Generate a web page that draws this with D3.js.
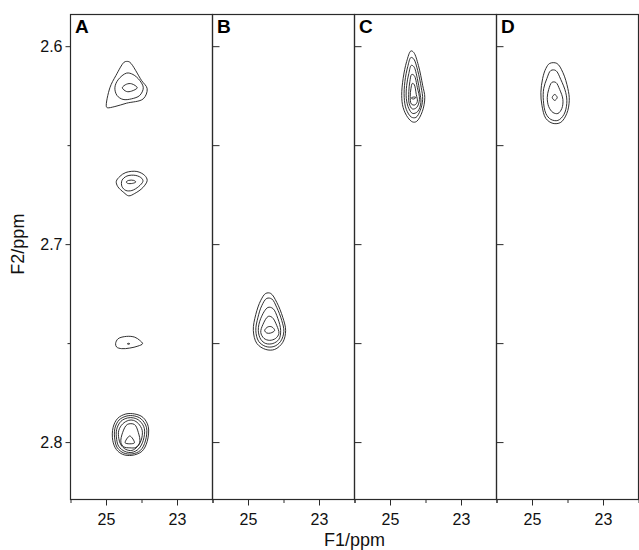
<!DOCTYPE html>
<html>
<head>
<meta charset="utf-8">
<script src="https://cdn.jsdelivr.net/npm/d3@7"></script>
<style>
body { margin: 0; background: #fff; }
svg { display: block; font-family: "Liberation Sans", Arial, sans-serif; }
</style>
</head>
<body>
<svg id="chart" width="639" height="550"></svg>
<script>
// panels and axes
const panelLabels = ["A", "B", "C", "D"];
const f1Domain = [26, 22];
const f2Domain = [2.584, 2.829];
const f1Major = [25, 23];
const f1Minor = [26, 24, 22];
const f2Major = [2.6, 2.7, 2.8];
const f2Minor = [2.65, 2.75];
const f2All = [2.6, 2.65, 2.7, 2.75, 2.8];

// contour rings, [F1 ppm, F2 ppm] (outer ring first)
const peakA1 = [
    [[24.42,2.6077],[24.33,2.6081],[24.00,2.6173],[23.84,2.6215],[23.95,2.6266],[24.42,2.6288],[24.75,2.6305],[24.96,2.6311],[24.99,2.6305],[24.89,2.6210],[24.72,2.6148],[24.49,2.6081]],
    [[24.42,2.6136],[24.24,2.6143],[24.05,2.6173],[23.95,2.6210],[24.05,2.6249],[24.28,2.6266],[24.52,2.6269],[24.69,2.6249],[24.75,2.6210],[24.66,2.6170]],
    [[24.54,2.6210],[24.42,2.6192],[24.28,2.6190],[24.12,2.6210],[24.28,2.6227],[24.42,2.6229]]
];
const peakA2 = [
    [[24.61,2.6658],[24.44,2.6638],[24.13,2.6633],[23.91,2.6653],[23.84,2.6678],[23.96,2.6714],[24.19,2.6744],[24.36,2.6756],[24.50,2.6739],[24.67,2.6709],[24.71,2.6683]],
    [[24.55,2.6678],[24.41,2.6656],[24.16,2.6653],[23.99,2.6668],[23.96,2.6683],[24.08,2.6709],[24.27,2.6729],[24.44,2.6729],[24.55,2.6709]],
    [[24.43,2.6686],[24.36,2.6678],[24.22,2.6678],[24.16,2.6686],[24.25,2.6693],[24.39,2.6693]]
];
const peakA3 = [
    [[24.73,2.7503],[24.66,2.7478],[24.42,2.7466],[24.19,2.7470],[24.05,2.7486],[23.97,2.7503],[24.10,2.7515],[24.33,2.7525],[24.56,2.7528],[24.70,2.7520]],
    [[24.40,2.7503],[24.37,2.7501],[24.33,2.7503],[24.37,2.7506]]
];
const peakA4 = [
    [[24.80,2.7926],[24.67,2.7880],[24.44,2.7858],[24.19,2.7858],[23.96,2.7875],[23.81,2.7921],[23.84,2.7997],[23.99,2.8047],[24.27,2.8067],[24.53,2.8062],[24.71,2.8037],[24.81,2.7991]],
    [[24.75,2.7931],[24.63,2.7888],[24.41,2.7868],[24.20,2.7868],[24.01,2.7883],[23.86,2.7926],[23.89,2.7994],[24.03,2.8042],[24.27,2.8060],[24.50,2.8055],[24.68,2.8029],[24.75,2.7989]],
    [[24.70,2.7936],[24.58,2.7895],[24.39,2.7878],[24.22,2.7878],[24.05,2.7893],[23.92,2.7931],[23.95,2.7991],[24.08,2.8034],[24.27,2.8052],[24.47,2.8047],[24.64,2.8022],[24.70,2.7986]],
    [[24.64,2.7941],[24.53,2.7908],[24.36,2.7890],[24.23,2.7890],[24.09,2.7906],[23.98,2.7941],[24.01,2.7991],[24.12,2.8024],[24.27,2.8042],[24.44,2.8037],[24.58,2.8014],[24.64,2.7981]],
    [[24.40,2.7911],[24.20,2.7911],[24.09,2.7951],[24.05,2.8002],[24.16,2.8027],[24.33,2.8029],[24.50,2.8024],[24.58,2.8002],[24.53,2.7951]],
    [[24.33,2.7969],[24.20,2.8004],[24.46,2.8004]]
];
const peakB = [
    [[24.50,2.7249],[24.36,2.7249],[24.19,2.7294],[24.02,2.7370],[23.94,2.7436],[24.02,2.7496],[24.25,2.7532],[24.50,2.7532],[24.75,2.7502],[24.85,2.7436],[24.78,2.7355],[24.64,2.7284]],
    [[24.47,2.7274],[24.33,2.7277],[24.19,2.7320],[24.05,2.7385],[23.99,2.7441],[24.08,2.7491],[24.27,2.7517],[24.50,2.7517],[24.70,2.7491],[24.78,2.7436],[24.72,2.7370],[24.61,2.7310]],
    [[24.44,2.7320],[24.30,2.7325],[24.16,2.7375],[24.08,2.7436],[24.13,2.7481],[24.30,2.7502],[24.50,2.7502],[24.64,2.7481],[24.71,2.7436],[24.64,2.7375]],
    [[24.43,2.7365],[24.32,2.7370],[24.19,2.7411],[24.13,2.7451],[24.22,2.7476],[24.39,2.7486],[24.55,2.7476],[24.64,2.7446],[24.58,2.7406]],
    [[24.53,2.7436],[24.44,2.7418],[24.33,2.7418],[24.25,2.7436],[24.36,2.7449],[24.47,2.7449]]
];
const peakC = [
    [[24.41,2.6024],[24.33,2.6032],[24.20,2.6097],[24.08,2.6198],[24.02,2.6259],[24.09,2.6330],[24.25,2.6380],[24.36,2.6383],[24.50,2.6360],[24.63,2.6310],[24.67,2.6249],[24.63,2.6163],[24.53,2.6077]],
    [[24.41,2.6057],[24.33,2.6065],[24.22,2.6123],[24.12,2.6209],[24.08,2.6269],[24.15,2.6325],[24.27,2.6360],[24.40,2.6358],[24.54,2.6320],[24.60,2.6259],[24.58,2.6178],[24.50,2.6103]],
    [[24.40,2.6097],[24.33,2.6103],[24.23,2.6163],[24.16,2.6234],[24.13,2.6284],[24.22,2.6330],[24.36,2.6340],[24.47,2.6315],[24.54,2.6264],[24.53,2.6198],[24.47,2.6138]],
    [[24.39,2.6143],[24.32,2.6148],[24.23,2.6209],[24.17,2.6269],[24.25,2.6310],[24.37,2.6317],[24.46,2.6289],[24.47,2.6229],[24.44,2.6178]],
    [[24.37,2.6188],[24.32,2.6193],[24.26,2.6244],[24.23,2.6279],[24.30,2.6297],[24.40,2.6292],[24.43,2.6254],[24.41,2.6214]],
    [[24.40,2.6262],[24.34,2.6257],[24.27,2.6259],[24.34,2.6267]]
];
const peakD = [
    [[24.50,2.6087],[24.30,2.6087],[24.13,2.6133],[23.99,2.6214],[23.95,2.6274],[24.02,2.6340],[24.19,2.6385],[24.41,2.6390],[24.61,2.6365],[24.72,2.6299],[24.75,2.6234],[24.70,2.6163],[24.61,2.6113]],
    [[24.47,2.6123],[24.33,2.6123],[24.19,2.6168],[24.05,2.6234],[24.02,2.6289],[24.10,2.6345],[24.27,2.6375],[24.47,2.6370],[24.61,2.6340],[24.68,2.6274],[24.67,2.6214],[24.58,2.6163]],
    [[24.44,2.6183],[24.33,2.6183],[24.22,2.6219],[24.13,2.6269],[24.16,2.6315],[24.27,2.6340],[24.41,2.6335],[24.53,2.6305],[24.57,2.6259],[24.53,2.6219]],
    [[24.36,2.6244],[24.29,2.6259],[24.36,2.6274],[24.43,2.6259]]
];

const panelPeaks = [[peakA1, peakA2, peakA3, peakA4], [peakB], [peakC], [peakD]];

const svg = d3.select("#chart"),
    width = +svg.attr("width"),
    height = +svg.attr("height");

const marginLeft = 70.5, marginTop = 14.5, panelW = 142, plotBottom = 499.5;
const axisColor = "#2a2a2a";

const y = d3.scaleLinear().domain(f2Domain).range([marginTop, plotBottom]);

panelLabels.forEach((label, i) => {
    const x0 = marginLeft + i * panelW;
    const x = d3.scaleLinear().domain(f1Domain).range([x0, x0 + panelW]);
    const g = svg.append("g");

    const line = d3.line()
        .x(d => x(d[0]))
        .y(d => y(d[1]))
        .curve(d3.curveCatmullRomClosed.alpha(0.5));

    g.append("g")
        .selectAll("path")
        .data(panelPeaks[i].flat())
        .enter().append("path")
        .attr("d", line)
        .attr("fill", "none")
        .attr("stroke", "#1a1a1a")
        .attr("stroke-width", 0.9);

    // bottom axis: labelled major ticks + short minor ticks
    const xMajor = g.append("g")
        .attr("transform", `translate(0,${plotBottom})`)
        .call(d3.axisBottom(x).tickValues(f1Major).tickSize(6).tickPadding(8).tickSizeOuter(0).tickFormat(d3.format("d")));
    const xMinor = g.append("g")
        .attr("transform", `translate(0,${plotBottom})`)
        .call(d3.axisBottom(x).tickValues(f1Minor).tickSize(3.5).tickSizeOuter(0).tickFormat(""));
    [xMajor, xMinor].forEach(a => {
        a.select(".domain").remove();
        a.selectAll("line").attr("stroke", axisColor);
        a.selectAll("text").attr("font-size", 16).attr("fill", "#111")
            .attr("font-family", "Liberation Sans, Arial, sans-serif");
    });

    if (i === 0) {
        const yMajor = g.append("g")
            .attr("transform", `translate(${x0},0)`)
            .call(d3.axisLeft(y).tickValues(f2Major).tickSize(5).tickPadding(3).tickFormat(d3.format(".1f")));
        const yMinor = g.append("g")
            .attr("transform", `translate(${x0},0)`)
            .call(d3.axisLeft(y).tickValues(f2Minor).tickSize(3).tickFormat(""));
        [yMajor, yMinor].forEach(a => {
            a.select(".domain").remove();
            a.selectAll("line").attr("stroke", axisColor);
            a.selectAll("text").attr("font-size", 16).attr("fill", "#111")
                .attr("font-family", "Liberation Sans, Arial, sans-serif");
        });
    } else {
        const yIn = g.append("g")
            .attr("transform", `translate(${x0},0)`)
            .call(d3.axisRight(y).tickValues(f2All).tickSize(7).tickFormat(""));
        yIn.select(".domain").remove();
        yIn.selectAll("line").attr("stroke", axisColor);
    }

    // panel frame
    g.append("rect")
        .attr("x", x0)
        .attr("y", marginTop)
        .attr("width", panelW)
        .attr("height", plotBottom - marginTop)
        .attr("fill", "none")
        .attr("stroke", axisColor)
        .attr("stroke-width", 1.2);

    g.append("text")
        .attr("x", x0 + 4.5)
        .attr("y", marginTop + 18)
        .style("font-size", "19px")
        .style("font-weight", "bold")
        .style("fill", "#000")
        .text(label);
});

svg.append("text")
    .attr("x", marginLeft + 2 * panelW)
    .attr("y", 546)
    .style("text-anchor", "middle")
    .style("font-size", "18px")
    .style("fill", "#111")
    .text("F1/ppm");

svg.append("text")
    .attr("transform", `translate(24,${y(2.7)}) rotate(-90)`)
    .style("text-anchor", "middle")
    .style("font-size", "18px")
    .style("fill", "#111")
    .text("F2/ppm");
</script>
</body>
</html>
